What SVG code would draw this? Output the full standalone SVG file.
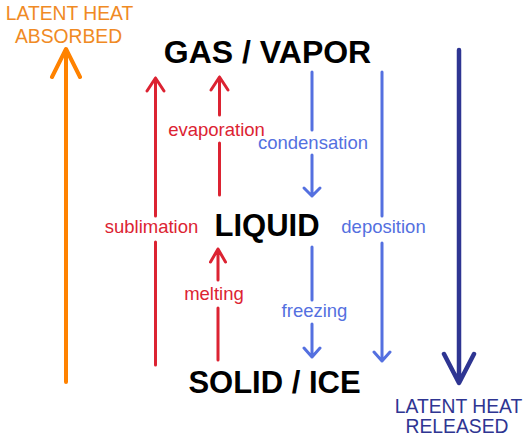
<svg xmlns="http://www.w3.org/2000/svg" width="528" height="441" viewBox="0 0 528 441">
<style>
text{font-family:"Liberation Sans",Arial,sans-serif;text-anchor:middle}
.state{font-weight:bold;font-size:31px;fill:#000}
.lbl{font-size:18.5px}
.heat{font-size:19.3px}
.r{stroke:#dc2332;stroke-width:3;fill:none;stroke-linecap:round;stroke-linejoin:round}
.b{stroke:#5470e0;stroke-width:3;fill:none;stroke-linecap:round;stroke-linejoin:round}
.o{stroke:#ff8200;stroke-width:4;fill:none;stroke-linecap:round;stroke-linejoin:round}
.d{stroke:#2e3592;stroke-width:4.5;fill:none;stroke-linecap:round;stroke-linejoin:round}
.rt{fill:#dc2332}
.bt{fill:#5470e0}
</style>
<rect width="528" height="441" fill="#fff"/>
<g id="gas"><text class="state" x="267.5" y="63" style="font-size:32px">GAS / VAPOR</text></g>
<g id="liquid"><text class="state" x="267" y="236">LIQUID</text></g>
<g id="solid"><text class="state" x="274.5" y="393">SOLID / ICE</text></g>
<g id="absorbed">
<text class="heat" x="69.5" y="20" fill="#f08a24">LATENT HEAT</text>
<text class="heat" x="68.5" y="43" fill="#f08a24">ABSORBED</text>
</g>
<g id="released">
<text class="heat" x="458.5" y="413" fill="#2e3592">LATENT HEAT</text>
<text class="heat" x="457" y="433" fill="#2e3592">RELEASED</text>
</g>
<g id="connectors">
<path class="o" d="M66 382V50M52 77L66 49L80 77"/>
<path class="d" d="M459 50V382M444 354L459 383L474 354"/>
<path class="r" d="M155.5 365V242M155.5 216V78M147 91L155.5 78L164 91"/>
<text class="lbl rt" x="151.5" y="233">sublimation</text>
<path class="r" d="M219.5 195V143M219.5 115V77M211 90L219.5 77L228 90"/>
<text class="lbl rt" x="216.5" y="136">evaporation</text>
<path class="r" d="M218 360V308M218 280V249M210.5 262L218 249L225.5 262"/>
<text class="lbl rt" x="214" y="300">melting</text>
<path class="b" d="M312 72V130M312 155V196M304 188L312 196L320 188"/>
<text class="lbl bt" x="313" y="149">condensation</text>
<path class="b" d="M312 247V300M312 324V357M304 348L312 357L320 348"/>
<text class="lbl bt" x="314.5" y="317">freezing</text>
<path class="b" d="M382 72V216M382 243V361M374 352L382 361L390 352"/>
<text class="lbl bt" x="383.5" y="233">deposition</text>
</g>
</svg>
